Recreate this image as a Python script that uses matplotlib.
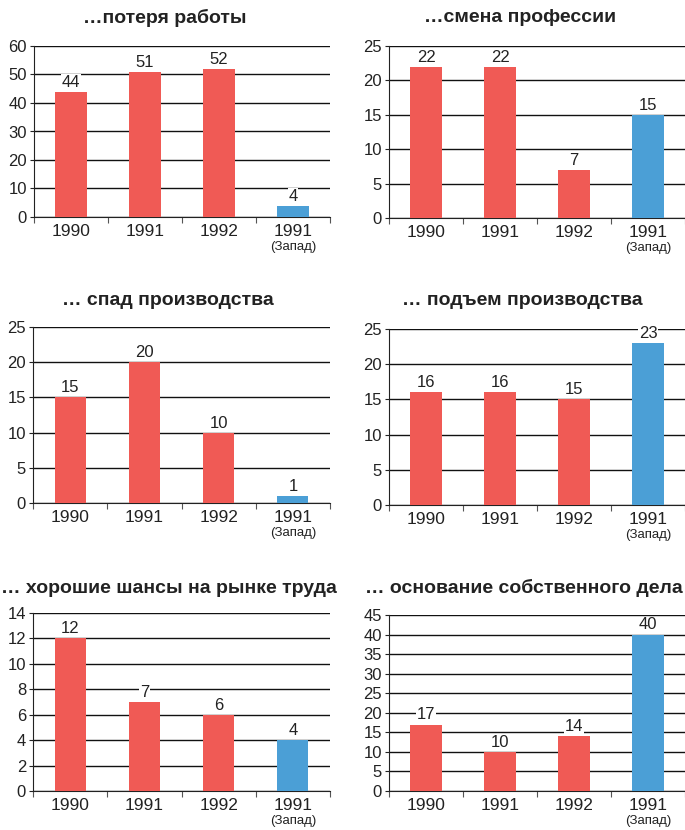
import matplotlib
matplotlib.use("Agg")
import matplotlib.pyplot as plt
import matplotlib.transforms as mtransforms

plt.rcParams['font.family'] = ['Liberation Sans', 'DejaVu Sans']

categories = ["1990", "1991", "1992", "1991"]
sublabels = ["", "", "", "(Запад)"]
bar_colors = ["#f05a55", "#f05a55", "#f05a55", "#4b9fd6"]

titles = [
    "…потеря работы",
    "…смена профессии",
    "… спад производства",
    "… подъем производства",
    "… хорошие шансы на рынке труда",
    "… основание собственного дела",
]
values_loss = [44, 51, 52, 4]
values_change = [22, 22, 7, 15]
values_decline = [15, 20, 10, 1]
values_rise = [16, 16, 15, 23]
values_chances = [12, 7, 6, 4]
values_business = [17, 10, 14, 40]
all_values = [values_loss, values_change, values_decline, values_rise,
              values_chances, values_business]
y_max = [60, 25, 25, 25, 14, 45]
y_step = [10, 5, 5, 5, 2, 5]

W, H = 685, 830
fig = plt.figure(figsize=(W / 100, H / 100), dpi=100)

# pixel boxes: (left, top, right, bottom)
boxes = [
    (34, 46, 330, 217),
    (389, 46, 685, 218),
    (33, 327, 330, 503),
    (389, 329, 685, 505),
    (33, 613, 330, 791),
    (389, 615, 685, 791),
]
title_pos = [(165, 18), (520, 18), (168, 300), (522, 300), (169, 588), (524, 588)]

for i, (box, vals) in enumerate(zip(boxes, all_values)):
    l, t, r, b = box
    ax = fig.add_axes([l / W, 1 - b / H, (r - l) / W, (b - t) / H])
    x = list(range(len(categories)))
    ax.bar(x, vals, width=0.42, color=bar_colors, zorder=3)
    ax.set_xlim(-0.5, 3.5)
    ax.set_ylim(0, y_max[i])
    ax.set_yticks(list(range(0, y_max[i] + 1, y_step[i])))
    ax.yaxis.grid(True, color="#111111", linewidth=1.0, zorder=0)
    ax.set_axisbelow(True)
    for s in ["top", "right"]:
        ax.spines[s].set_visible(False)
    ax.spines["left"].set_color("#222222")
    ax.spines["bottom"].set_color("#222222")
    ax.tick_params(axis="y", length=3, width=0.8, labelsize=12, pad=2, colors="#222222")
    ax.set_xticks(x)
    ax.set_xticklabels(categories, fontsize=12.5, color="#222222")
    ax.tick_params(axis="x", which="major", length=0, pad=5)
    ax.set_xticks([-0.5, 0.5, 1.5, 2.5, 3.5], minor=True)
    ax.tick_params(axis="x", which="minor", length=4, width=0.8, colors="#555555")
    trans = mtransforms.blended_transform_factory(ax.transData, ax.transAxes)
    off = mtransforms.ScaledTranslation(0, -17.5 / 72, fig.dpi_scale_trans)
    for xi, sub in zip(x, sublabels):
        if sub:
            ax.text(xi, 0, sub, transform=trans + off, ha="center", va="top",
                    fontsize=9.5, color="#222222")
    for xi, v in zip(x, vals):
        ax.annotate(str(v), (xi, v), xytext=(0, 1.5), textcoords="offset points",
                    ha="center", va="bottom", fontsize=12, color="#222222", zorder=4,
                    bbox=dict(facecolor="white", edgecolor="none", pad=0.5))
    tx, ty = title_pos[i]
    fig.text(tx / W, 1 - ty / H, titles[i], ha="center", va="center",
             fontsize=14, fontweight="bold", color="#222222")

fig.savefig("out.png", dpi=100)
